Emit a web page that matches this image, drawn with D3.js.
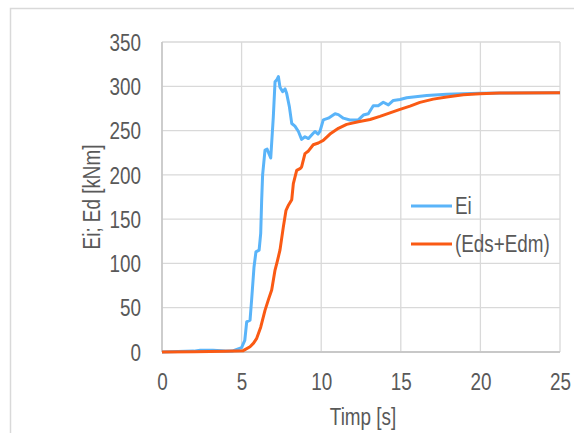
<!DOCTYPE html>
<html>
<head>
<meta charset="utf-8">
<script src="https://cdn.jsdelivr.net/npm/d3@7"></script>
<style>
  html, body { margin: 0; padding: 0; background: #fff; }
  svg { display: block; }
  text { font-family: "Liberation Sans Narrow", "Arial Narrow", "Liberation Sans", Arial, sans-serif; fill: #595959; }
</style>
</head>
<body>
<svg id="chart" width="574" height="433"></svg>
<script>
// ---- data ----
const eiTime   = [0, 1, 2, 2.4, 3.2, 4.0, 4.4, 4.7, 5.0, 5.2, 5.32, 5.53, 5.63, 5.78, 5.9, 6.1, 6.2, 6.26, 6.32, 6.47, 6.6, 6.83, 6.99, 7.1, 7.2, 7.31, 7.41, 7.58, 7.73, 7.83, 8.0, 8.15, 8.35, 8.57, 8.77, 8.98, 9.2, 9.5, 9.61, 9.8, 9.92, 10.13, 10.45, 10.87, 11.08, 11.39, 11.8, 12.33, 12.65, 12.96, 13.27, 13.58, 13.9, 14.22, 14.53, 14.95, 15.37, 15.79, 16.63, 17.88, 19.97, 22, 25];
const eiValues = [0, 0.5, 1, 2, 2, 1, 1, 3, 5, 13, 34, 36, 59, 96, 113, 115, 134, 171, 200, 228, 229, 219, 265, 305, 307, 311, 299, 294, 297, 292, 277, 258, 255, 249, 240, 243, 241, 247, 249, 246, 249, 262, 264, 269, 268, 264, 262, 262, 267.5, 269, 278, 278, 282, 279, 284, 285, 287, 288, 289.6, 291, 292, 292.5, 292.7];

const edTime   = [0, 2, 4, 5.1, 5.53, 5.75, 5.95, 6.2, 6.47, 6.7, 6.89, 7.1, 7.25, 7.41, 7.62, 7.79, 7.95, 8.15, 8.25, 8.46, 8.67, 8.77, 8.98, 9.2, 9.5, 9.82, 10.13, 10.55, 11.08, 11.6, 12.33, 13.07, 13.69, 14.32, 14.95, 15.58, 16.2, 17.04, 17.88, 18.93, 19.97, 21.2, 25];
const edValues = [0, 0.3, 0.8, 1.5, 6, 10, 15.4, 28, 47, 60, 70, 92.5, 103, 115, 141, 160, 166, 172, 190, 205, 207, 209, 224, 227, 234, 236, 239, 246, 252.5, 257, 260, 262.5, 266, 270, 274, 277.6, 281.8, 285.5, 288, 290.4, 291.5, 292.3, 292.7];

const seriesNames = ["Ei", "(Eds+Edm)"];
const seriesColors = ["#5ab4f9", "#fa5a14"];
const xTicks = [0, 5, 10, 15, 20, 25];
const yTicks = [0, 50, 100, 150, 200, 250, 300, 350];
const xTitle = "Timp [s]";
const yTitle = "Ei; Ed [kNm]";

// ---- layout ----
const svg = d3.select("#chart");
const pLeft = 162, pTop = 42, pRight = 560, pBottom = 352;
const x = d3.scaleLinear().domain([0, 25]).range([pLeft, pRight]);
const y = d3.scaleLinear().domain([0, 350]).range([pBottom, pTop]);
const FONT = '"Liberation Sans Narrow", "Arial Narrow", "Liberation Sans", Arial, sans-serif';

// outer chart border
svg.append("rect")
  .attr("x", 10.5).attr("y", 8.5)
  .attr("width", 600).attr("height", 500)
  .attr("fill", "none").attr("stroke", "#d9d9d9").attr("stroke-width", 1.5);

// gridlines
const grid = svg.append("g");
grid.selectAll("line.h").data(yTicks.filter(d => d > 0)).join("line")
  .attr("class", "h")
  .attr("x1", pLeft).attr("x2", pRight)
  .attr("y1", d => y(d)).attr("y2", d => y(d))
  .attr("stroke", "#d9d9d9").attr("stroke-width", 1.3);
grid.selectAll("line.v").data(xTicks.filter(d => d > 0)).join("line")
  .attr("class", "v")
  .attr("y1", pTop).attr("y2", pBottom)
  .attr("x1", d => x(d)).attr("x2", d => x(d))
  .attr("stroke", "#d9d9d9").attr("stroke-width", 1.3);

// axes lines
svg.append("line").attr("x1", pLeft).attr("x2", pLeft).attr("y1", pTop).attr("y2", pBottom)
  .attr("stroke", "#c8c8c8").attr("stroke-width", 1.8);
svg.append("line").attr("x1", pLeft).attr("x2", pRight).attr("y1", pBottom).attr("y2", pBottom)
  .attr("stroke", "#c8c8c8").attr("stroke-width", 1.8);

// axes via d3 (labels only)
const xAxis = svg.append("g").attr("transform", `translate(0,${pBottom})`)
  .call(d3.axisBottom(x).tickValues(xTicks).tickSize(0).tickPadding(38).tickFormat(d3.format("d")));
const yAxis = svg.append("g").attr("transform", `translate(${pLeft},0)`)
  .call(d3.axisLeft(y).tickValues(yTicks).tickSize(0).tickPadding(21).tickFormat(d3.format("d")));
[xAxis, yAxis].forEach(a => {
  a.select(".domain").remove();
  a.selectAll("text").attr("font-size", 23).attr("fill", "#595959").style("font-family", FONT);
});
xAxis.selectAll("text").attr("dy", 0).attr("y", 38);
yAxis.selectAll("text").attr("dy", "0.36em");

// axis titles
svg.append("text").attr("x", (pLeft + pRight) / 2 + 2).attr("y", 425)
  .attr("text-anchor", "middle").attr("font-size", 23).text(xTitle);
svg.append("text").attr("transform", "translate(100,197) rotate(-90)")
  .attr("text-anchor", "middle").attr("font-size", 23).text(yTitle);

// lines
const line = d3.line().x(d => x(d[0])).y(d => y(d[1]));
const eiData = eiTime.map((t, i) => [t, eiValues[i]]);
const edData = edTime.map((t, i) => [t, edValues[i]]);
svg.append("path").datum(eiData).attr("d", line)
  .attr("fill", "none").attr("stroke", seriesColors[0]).attr("stroke-width", 3).attr("stroke-linejoin", "round");
svg.append("path").datum(edData).attr("d", line)
  .attr("fill", "none").attr("stroke", seriesColors[1]).attr("stroke-width", 3).attr("stroke-linejoin", "round");

// legend
const legY = [206, 244];
const leg = svg.append("g");
seriesNames.forEach((name, i) => {
  leg.append("line").attr("x1", 411).attr("x2", 452).attr("y1", legY[i]).attr("y2", legY[i])
    .attr("stroke", seriesColors[i]).attr("stroke-width", 3);
  leg.append("text").attr("x", 455).attr("y", legY[i] + 8).attr("font-size", 23).text(name);
});

// emulate a condensed face: compress every label horizontally
svg.selectAll("text").each(function () {
  const w = this.getComputedTextLength();
  d3.select(this).attr("textLength", w * 0.82).attr("lengthAdjust", "spacingAndGlyphs");
});
</script>
</body>
</html>
